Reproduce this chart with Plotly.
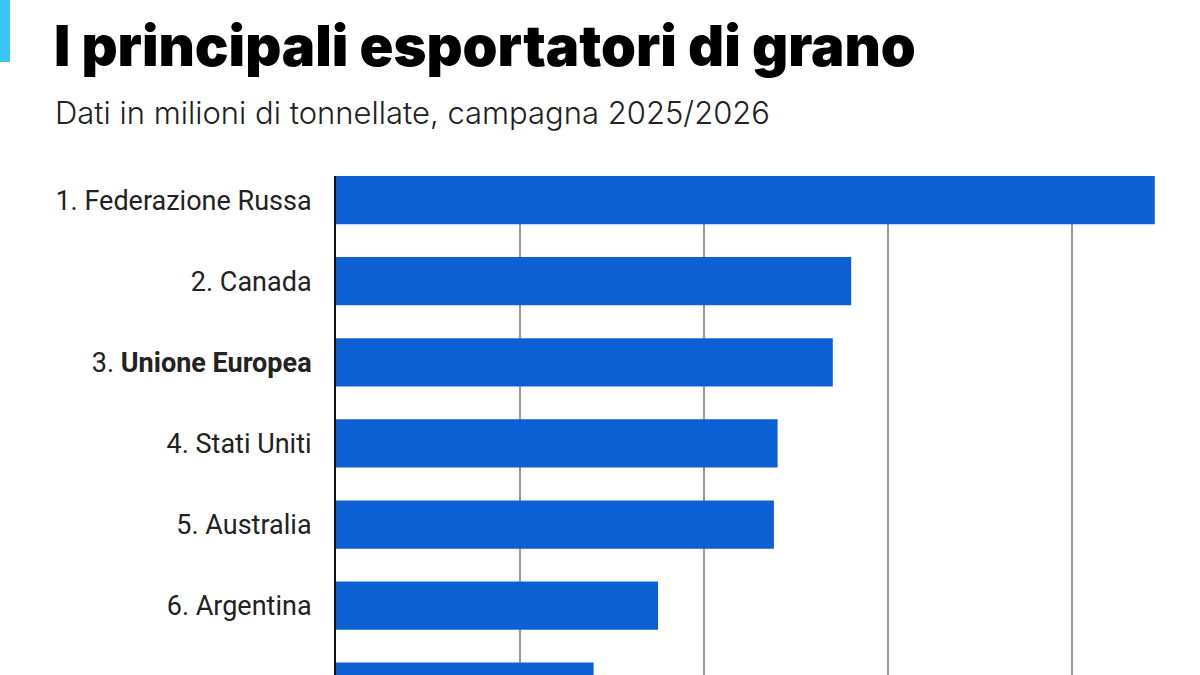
import plotly.graph_objects as go

countries = ["1. Federazione Russa", "2. Canada", "3. <b>Unione Europea</b>", "4. Stati Uniti",
             "5. Australia", "6. Argentina", "7. Ucraina"]
values = [44.5, 28.0, 27.0, 24.0, 23.8, 17.5, 14.0]
title_text = "I principali esportatori di grano"
subtitle_text = "Dati in milioni di tonnellate, campagna 2025/2026"

W, H = 1200, 760
L, R, T, B = 336, 1164, 176, 727
pw, ph = R - L, B - T

def px(x):
    return (x - L) / pw

def py(y):
    return (B - y) / ph

bar_w = 0.595
pitch = 81.1
y_top = -bar_w / 2
y_bot = y_top + ph / pitch

fig = go.Figure(go.Bar(
    x=values, y=list(range(len(countries))), orientation="h",
    marker=dict(color="#0D60D4", line=dict(width=0)), width=bar_w,
    hoverinfo="skip",
))

fig.update_layout(
    width=W, height=H,
    margin=dict(l=L, r=W - R, t=T, b=H - B, pad=0),
    paper_bgcolor="white", plot_bgcolor="white",
    showlegend=False,
    xaxis=dict(range=[0, 45], tickvals=[10, 20, 30, 40], showticklabels=False,
               showgrid=True, gridcolor="#9a9a9a", gridwidth=1.5,
               zeroline=False, showline=False, ticks=""),
    yaxis=dict(range=[y_bot, y_top], tickvals=list(range(len(countries))), ticktext=countries,
               showgrid=False, zeroline=False, showline=True, linecolor="#111111", linewidth=2,
               ticks="outside", ticklen=17, tickcolor="rgba(0,0,0,0)",
               tickfont=dict(family="Roboto", size=27, color="#222222")),
    shapes=[dict(type="rect", xref="paper", yref="paper",
                 x0=px(0), x1=px(10), y0=py(0), y1=py(62),
                 fillcolor="#3CC4F5", line=dict(width=0), layer="above")],
    annotations=[
        dict(text=title_text, xref="paper", yref="paper", x=px(52), y=py(46),
             xanchor="left", yanchor="middle", showarrow=False,
             font=dict(family="Inter", size=56, color="#000000", weight=900)),
        dict(text=subtitle_text, xref="paper", yref="paper", x=px(53), y=py(112),
             xanchor="left", yanchor="middle", showarrow=False,
             font=dict(family="Inter", size=31, color="#222222", weight=300)),
    ],
)

fig.write_html("out.html", config={"displayModeBar": False},
               post_script="document.body.style.margin='0';")
